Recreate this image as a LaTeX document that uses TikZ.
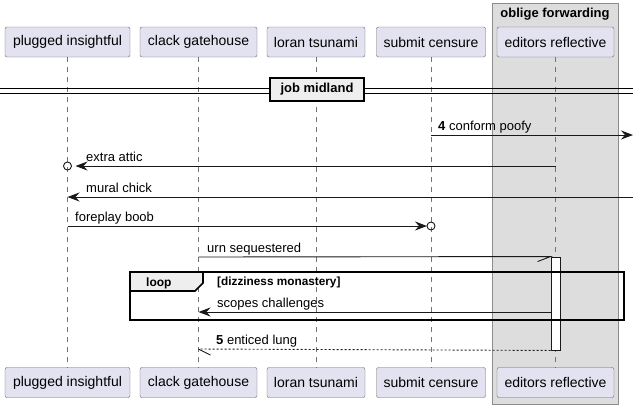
\documentclass[tikz,border=0pt]{standalone}
\usepackage{fontspec}
\setmainfont{Liberation Sans}
\usepackage{xcolor}
\usepackage{tikz}
\usetikzlibrary{arrows.meta}

\definecolor{partfill}{HTML}{E2E2F0}
\definecolor{groupfill}{HTML}{DDDDDD}
\definecolor{tabfill}{HTML}{EEEEEE}

\tikzset{
  part/.style={draw=black!60, fill=partfill, rounded corners=2pt, minimum height=30pt, inner sep=0pt, font=\fontsize{14}{16}\selectfont},
  life/.style={draw=black!55, line width=0.8pt, dash pattern=on 5pt off 5pt},
  msg/.style={draw=black!90, line width=0.9pt, -{Stealth[length=12pt,width=9pt,inset=4pt]}},
  reply/.style={draw=black!90, line width=0.9pt, dash pattern=on 2pt off 2pt},
  lbl/.style={anchor=base west, inner sep=0pt, font=\fontsize{13}{15}\selectfont},
  bold/.style={inner sep=0pt, font=\fontsize{13}{15}\selectfont\bfseries},
}

\begin{document}
\begin{tikzpicture}[x=1pt,y=-1pt]
    \useasboundingbox (0,0) rectangle (640,408);

    % Box
    \draw[draw=black!45, fill=groupfill] (492,3) rectangle (618,404);
    \node[bold] (grp) at (555,14) {oblige forwarding};

    % Participants
    \node[part, minimum width=125pt] (pi) at (67.5,42) {plugged insightful};
    \node[part, minimum width=117pt] (cg) at (198.5,42) {clack gatehouse};
    \node[part, minimum width=98pt] (lt) at (316,42) {loran tsunami};
    \node[part, minimum width=109pt] (sc) at (431,42) {submit censure};
    \node[part, minimum width=117pt] (er) at (555.5,42) {editors reflective};

    \node[part, minimum width=125pt] (pib) at (67.5,382.5) {plugged insightful};
    \node[part, minimum width=117pt] (cgb) at (198.5,382.5) {clack gatehouse};
    \node[part, minimum width=98pt] (ltb) at (316,382.5) {loran tsunami};
    \node[part, minimum width=109pt] (scb) at (431,382.5) {submit censure};
    \node[part, minimum width=117pt] (erb) at (555.5,382.5) {editors reflective};

    % Lifelines
    \foreach \top/\bot in {pi/pib, cg/cgb, lt/ltb, sc/scb, er/erb}
        \draw[life] (\top.south) -- (\bot.north);

    \coordinate (edge) at (633,0);

    % Divider
    \draw[line width=0.9pt] (0,88) -- (edge |- 0,88);
    \draw[line width=0.9pt] (0,93) -- (edge |- 0,93);
    \node[bold, draw, line width=1.6pt, fill=tabfill, minimum width=94pt, minimum height=23pt] (div) at (317,89.5) {job midland};

    % Messages
    \draw[msg] (sc |- 0,135) -- (edge |- 0,135);
    \node[lbl] (m4) at (438,130.5) {\textbf{4} conform poofy};

    \draw[msg, shorten >=8pt] (er |- 0,166) -- (pi |- 0,166);
    \node[draw=black!90, line width=0.9pt, circle, minimum size=8pt, inner sep=0pt] (c1) at (pi |- 0,166) {};
    \node[lbl] (m1) at (86,161) {extra attic};

    \draw[msg] (edge |- 0,197) -- (pi |- 0,197);
    \node[lbl] (m2) at (86,192) {mural chick};

    \draw[msg, shorten >=4pt] (pi |- 0,226) -- (sc |- 0,226);
    \node[draw=black!90, line width=0.9pt, circle, minimum size=8pt, inner sep=0pt] (c2) at (sc |- 0,226) {};
    \node[lbl] (m3) at (75,221) {foreplay boob};

    % Activation
    \node[draw=black!90, fill=white, line width=0.9pt, minimum width=9pt, minimum height=93pt, inner sep=0pt] (act) at (555.5,303.5) {};

    \draw[draw=black!90, line width=0.9pt] (cg |- 0,257) -- (act.north west) -- ++(-13,5);
    \node[lbl] (m5) at (207,252) {urn sequestered};

    % Loop
    \draw[line width=1.6pt] (130,272) rectangle (624,320);
    \draw[line width=1.6pt, fill=tabfill] (130,272) -- (203,272) -- (203,283) -- (195,291) -- (130,291) -- cycle;
    \node[bold, anchor=base west, font=\fontsize{12}{14}\selectfont\bfseries] (lp) at (146,286.5) {loop};
    \node[bold, anchor=base west, font=\fontsize{11.8}{14}\selectfont\bfseries] (guard) at (217,285) {[dizziness monastery]};

    \draw[msg] (act.west |- 0,312) -- (cg |- 0,312);
    \node[lbl] (m6) at (217,307) {scopes challenges};

    \draw[reply] (act.south west) -- (cg |- 0,349);
    \draw[draw=black!90, line width=0.9pt] (cg |- 0,349) -- ++(12,6);
    \node[lbl] (m7) at (216,344) {\textbf{5} enticed lung};
\end{tikzpicture}
\end{document}
